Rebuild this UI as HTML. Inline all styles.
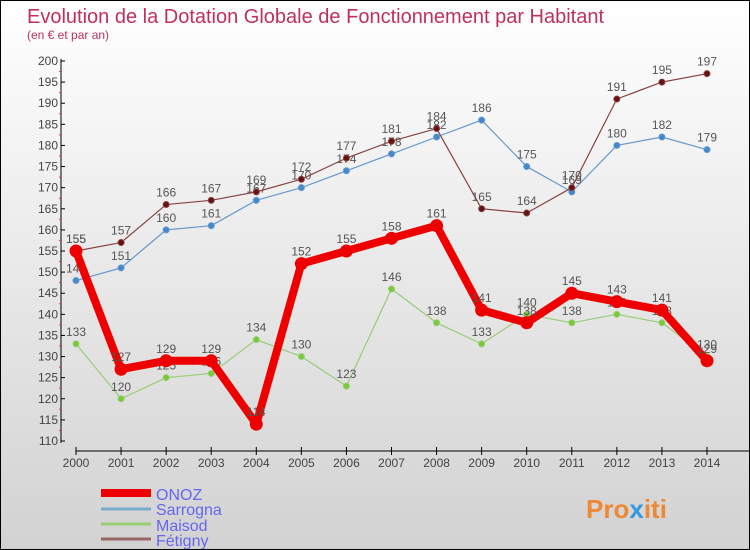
<!DOCTYPE html>
<html><head><meta charset="utf-8"><style>
body{margin:0}
#wrap{width:750px;height:550px;position:relative;box-sizing:border-box;border:1px solid #000;background:linear-gradient(#ffffff,#d2d2d2);font-family:"Liberation Sans",sans-serif;overflow:hidden}
svg text{font-family:"Liberation Sans",sans-serif}
</style></head><body>
<div id="wrap">
<svg id="chart" width="750" height="550">
<text x="26" y="22" font-size="20" fill="#c0305a">Evolution de la Dotation Globale de Fonctionnement par Habitant</text>
<text x="26" y="38" font-size="12" fill="#c0305a">(en € et par an)</text>
<g id="axes"></g><g id="series"></g>
<g>
<line x1="100" y1="492" x2="150" y2="492" stroke="#ee0000" stroke-width="8"/>
<text x="155" y="499" font-size="16" fill="#6666ee">ONOZ</text>
<line x1="100" y1="508" x2="150" y2="508" stroke="#7aaacc" stroke-width="3"/>
<text x="155" y="514" font-size="16" fill="#6666ee">Sarrogna</text>
<line x1="100" y1="523" x2="150" y2="523" stroke="#99cc77" stroke-width="3"/>
<text x="155" y="530" font-size="16" fill="#6666ee">Maisod</text>
<line x1="100" y1="538" x2="150" y2="538" stroke="#996666" stroke-width="3"/>
<text x="155" y="545" font-size="16" fill="#6666ee">Fétigny</text>
</g>
<text x="585" y="517" font-size="26" font-weight="bold" fill="#ee8833">Pro<tspan fill="#3399dd">x</tspan>iti</text>
</svg>
</div>
<script>
const years=[2000,2001,2002,2003,2004,2005,2006,2007,2008,2009,2010,2011,2012,2013,2014];
const onoz=[155,127,129,129,114,152,155,158,161,141,138,145,143,141,129];
const sarrogna=[148,151,160,161,167,170,174,178,182,186,175,169,180,182,179];
const maisod=[133,120,125,126,134,130,123,146,138,133,140,138,140,138,130];
const fetigny=[155,157,166,167,169,172,177,181,184,165,164,170,191,195,197];
const yTicks=[110,115,120,125,130,135,140,145,150,155,160,165,170,175,180,185,190,195,200];
const NS='http://www.w3.org/2000/svg';
const X=i=>75+i*(706-75)/(years.length-1);
const Y=v=>440-(v-110)*(380/90);
function mk(t,a,p){const e=document.createElementNS(NS,t);for(const k in a)e.setAttribute(k,a[k]);p.appendChild(e);return e;}
const ax=document.getElementById('axes');
let yl=mk('line',{x1:60,y1:58,x2:60,y2:442,stroke:'#000'},ax);


yTicks.forEach(v=>{
 mk('line',{x1:60,y1:Y(v),x2:64,y2:Y(v),stroke:'#000'},ax);
 if(v<200)mk('line',{x1:58,y1:Y(v+2.5),x2:60,y2:Y(v+2.5),stroke:'#e33'},ax);
 const t=mk('text',{x:57,y:Y(v)+4,'font-size':12,'text-anchor':'end',fill:'#444'},ax);t.textContent=v;
 
 
});
let xl=mk('line',{x1:75,y1:450,x2:750,y2:450,stroke:'#000'},ax);


years.forEach((y,i)=>{
 mk('line',{x1:X(i),y1:446,x2:X(i),y2:454,stroke:'#000'},ax);
 const t=mk('text',{x:X(i),y:466,'font-size':12,'text-anchor':'middle',fill:'#444'},ax);t.textContent=y;
 
 
});
const sg=document.getElementById('series');
function draw(name,data,color,w,r,dot){
 const g=mk('g',{},sg);
 
 
 mk('polyline',{points:data.map((v,i)=>X(i)+','+Y(v)).join(' '),fill:'none',stroke:color,'stroke-width':w,'stroke-linejoin':'round'},g);
 data.forEach((v,i)=>{
  const c=mk('circle',{cx:X(i),cy:Y(v),r:r,fill:dot,stroke:color,'stroke-width':1},g);
  
  
  const t=mk('text',{x:X(i),y:Y(v)-8,'font-size':12,'text-anchor':'middle',fill:'#555'},g);t.textContent=v;
  
  
 });
}
draw('maisod',maisod,'#99cc77',1.2,3,'#77cc33');
draw('sarrogna',sarrogna,'#6699cc',1.2,3,'#4488cc');
draw('fetigny',fetigny,'#884444',1.2,3,'#661111');
draw('onoz',onoz,'#ee0000',8,6,'#ee0000');
</script>
</body></html>
